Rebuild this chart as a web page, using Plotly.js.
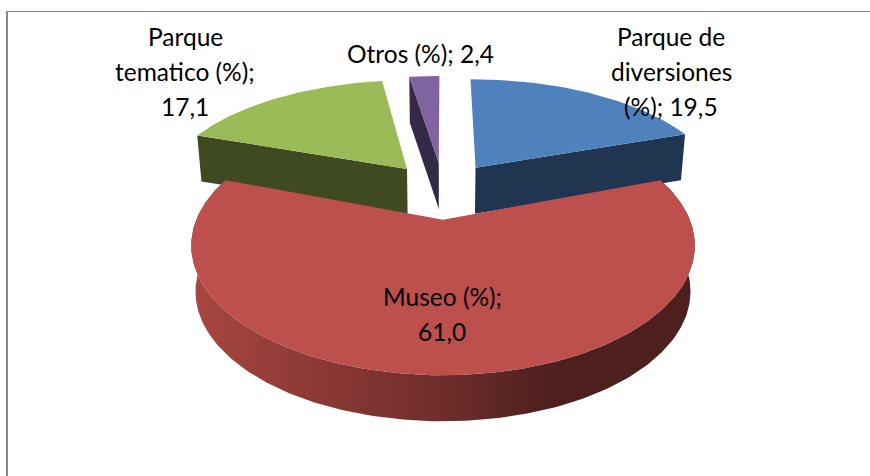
<!DOCTYPE html>
<html><head><meta charset="utf-8">
<script src="https://cdn.plot.ly/plotly-3.0.1.min.js"></script>
<style>html,body{margin:0;padding:0;background:#fff}#c{width:870px;height:476px}</style>
</head><body><div id="c"></div><script>
var categories=["Parque de diversiones (%)","Museo (%)","Parque tematico (%)","Otros (%)"];
var values=[19.5,61.0,17.1,2.4];
var labelLines=[["Parque de","diversiones","(%); 19,5"],["Museo (%);","61,0"],["Parque","tematico (%);","17,1"],["Otros (%); 2,4"]];
var labelAnchors=[[671,36],[442,296],[185,36],[420,53]];
var topColors=["#4f81bd","#bd4f4c","#9bbb59","#8064a2"];
var wallColors=["#1f3550","#4d1f1d","#3f4a20","#35294a"];
var CX=443,Y0=190,R=235,B=113,K=0.19,EXPLODE=0.25,BACK_WIDEN=1.055,DEPTH=46,BOTTOM_SCALE=0.983,LINE_H=35;

function proj(u,v,low){
  var s=1/(1+K*v),X=R*u*s,Y=Y0-B*v*s;
  return low?[CX+X*BOTTOM_SCALE,Y+DEPTH]:[CX+X,Y];
}
var total=values.reduce(function(a,b){return a+b},0);
var slices=[],ang=90;
values.forEach(function(v,i){
  var span=v/total*360,a0=ang,a1=ang-span,mid=(a0+a1)/2*Math.PI/180;
  slices.push({a0:a0,a1:a1,ox:EXPLODE*Math.cos(mid),oy:EXPLODE*Math.sin(mid),w:i===1?1:BACK_WIDEN});
  ang=a1;
});
function rim(s,a0,a1,low){
  var p=[],n=Math.max(2,Math.ceil(Math.abs(a1-a0)));
  for(var i=0;i<=n;i++){var t=(a0+(a1-a0)*i/n)*Math.PI/180;p.push(proj(s.ox+s.w*Math.cos(t),s.oy+Math.sin(t),low));}
  return p;
}
function poly(pts,color,extra){
  var tr={type:"scatter",mode:"lines",x:pts.map(function(p){return p[0]}),y:pts.map(function(p){return p[1]}),
    fill:"toself",fillcolor:color,line:{width:0},hoverinfo:"skip",showlegend:false};
  for(var k in extra)tr[k]=extra[k];
  return tr;
}
var traces=[];
[2,3,0].forEach(function(i){
  var s=slices[i],apexT=proj(s.ox,s.oy,false),apexB=proj(s.ox,s.oy,true);
  var edgeA=i===0?s.a1:s.a0;
  var t=edgeA*Math.PI/180,ex=s.ox+s.w*Math.cos(t),ey=s.oy+Math.sin(t);
  traces.push(poly([proj(ex,ey,false),apexT,apexB,proj(ex,ey,true)],wallColors[i]));
  traces.push(poly(rim(s,s.a0,s.a1,false).concat([apexT]),topColors[i]));
});
var red=slices[1];
var redTop=rim(red,red.a0,red.a1,false),redLow=rim(red,red.a0,red.a1,true);
traces.push(poly(redTop.concat(redLow.slice().reverse()),wallColors[1],{
  fillcolor:undefined,
  fillgradient:{type:"horizontal",start:191,stop:696,
    colorscale:[[0,"#a8473f"],[0.22,"#8f3a37"],[0.5,"#6e2d2b"],[0.72,"#4d1f1d"],[1,"#4d1f1d"]]}
}));
traces.push(poly(redTop.concat([proj(red.ox,red.oy,false)]),topColors[1]));

var annotations=[];
labelLines.forEach(function(lines,i){
  lines.forEach(function(txt,j){
    annotations.push({x:labelAnchors[i][0],y:labelAnchors[i][1]+j*LINE_H,xref:"x",yref:"y",text:txt,showarrow:false,
      xanchor:"center",yanchor:"middle",font:{family:"Lato",size:24.5,color:"#000"}});
  });
});
Plotly.newPlot("c",traces,{
  width:870,height:476,margin:{l:0,r:0,t:0,b:0},paper_bgcolor:"#fff",plot_bgcolor:"#fff",showlegend:false,
  xaxis:{range:[0,870],visible:false,fixedrange:true},
  yaxis:{range:[476,0],visible:false,fixedrange:true},
  annotations:annotations,
  shapes:[
    {type:"line",xref:"x",yref:"y",x0:7,x1:870,y0:11.5,y1:11.5,line:{color:"#868686",width:1}},
    {type:"line",xref:"x",yref:"y",x0:7,x1:7,y0:11,y1:476,line:{color:"#868686",width:2}}
  ]
},{displayModeBar:false,staticPlot:true});
</script></body></html>
